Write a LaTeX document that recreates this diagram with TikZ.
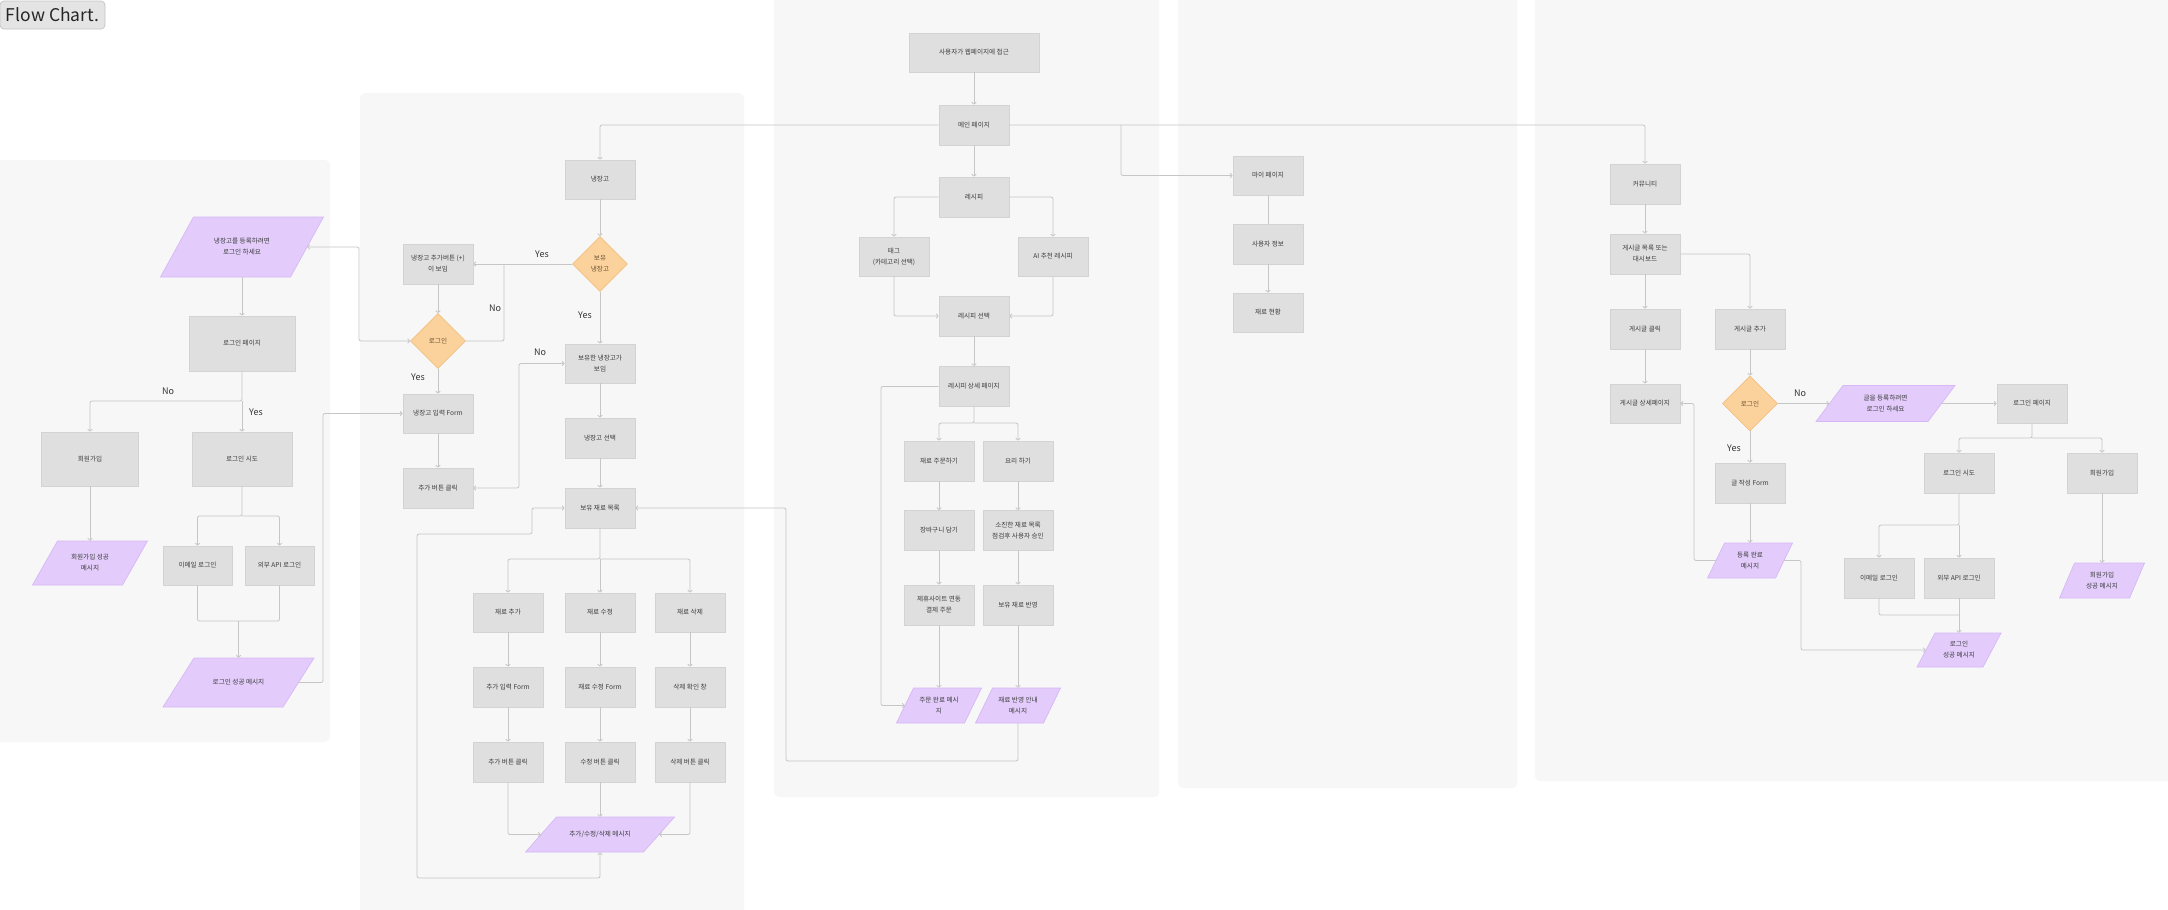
\documentclass[tikz,border=0pt]{standalone}
\usepackage{fontspec}
\setmainfont{Noto Sans CJK KR}
\usetikzlibrary{shapes.geometric,arrows.meta}
\definecolor{panelbg}{HTML}{F7F7F7}
\definecolor{boxfill}{HTML}{DFDFDF}
\definecolor{boxline}{HTML}{D3D3D3}
\definecolor{diafill}{HTML}{FCD29C}
\definecolor{dialine}{HTML}{F2C080}
\definecolor{pgfill}{HTML}{E3CCFB}
\definecolor{pgline}{HTML}{D6B8F6}
\definecolor{connc}{HTML}{C6C6C6}
\definecolor{txt}{HTML}{3C3C3C}
\definecolor{diatxt}{HTML}{6A5236}
\definecolor{titlefill}{HTML}{E4E4E4}
\definecolor{titleline}{HTML}{C4C4C4}
\tikzset{
  box/.style={draw=boxline, line width=0.7pt, fill=boxfill, text=txt,
    font=\fontsize{6.6}{11}\selectfont, align=center, inner sep=0pt,
    minimum width=70pt, minimum height=40pt},
  dia/.style={diamond, aspect=1, draw=dialine, line width=0.7pt, fill=diafill, text=diatxt,
    font=\fontsize{6.6}{11}\selectfont, align=center, inner sep=0pt,
    minimum width=55pt, minimum height=55pt},
  pgshape/.style={fill=pgfill, draw=pgline, line width=0.7pt},
  pgtext/.style={text=txt, font=\fontsize{6.6}{11}\selectfont, align=center, inner sep=0pt},
  conn/.style={draw=connc, line width=0.8pt, rounded corners=2pt},
  arr/.style={conn, -{Straight Barb[length=2pt,width=4.5pt]}},
  barr/.style={conn, {Straight Barb[length=2pt,width=4.5pt]}-{Straight Barb[length=2pt,width=4.5pt]}},
  lbl/.style={font=\fontsize{9}{10}\selectfont, text=black!80},
  panel/.style={fill=panelbg, rounded corners=5pt},
  titlebox/.style={draw=titleline, line width=0.7pt, fill=titlefill, rounded corners=4pt,
    minimum width=105pt, minimum height=28pt, inner sep=0pt,
    font=\fontsize{17.5}{20}\selectfont, text=black!85}
}
\newcommand{\mypgram}[7]{%
  \path[pgshape] ({#2-#4/2+#6/2},{#3-#5/2}) -- ({#2+#4/2+#6/2},{#3-#5/2})
    -- ({#2+#4/2-#6/2},{#3+#5/2}) -- ({#2-#4/2-#6/2},{#3+#5/2}) -- cycle;
  \node[pgtext, minimum width=#4pt, minimum height=#5pt] (#1) at (#2,#3) {#7};}
\begin{document}
\begin{tikzpicture}[x=1pt,y=-1pt]
\useasboundingbox (0,0) rectangle (2168,910);
\fill[white] (0,0) rectangle (2168,910);
% panels
\fill[panel] (-6,160) rectangle (330,742);
\fill[panel] (360,93) rectangle (744,918);
\fill[panel] (774,-6) rectangle (1159,797);
\fill[panel] (1178,-6) rectangle (1517,788);
\fill[panel] (1535,-6) rectangle (2176,781);
% title
\node[titlebox] (title) at (52.5,15) {Flow Chart.};

% ---------- panel 1 ----------
\mypgram{p1reg}{242}{247}{130}{60}{33}{냉장고를 등록하려면\\로그인 하세요}
\node[box, minimum width=106pt, minimum height=55pt] (n1lp) at (242,343.5) {로그인 페이지};
\node[box, minimum width=97pt, minimum height=54pt] (n1join) at (90,459) {회원가입};
\node[box, minimum width=100pt, minimum height=54pt] (n1try) at (242,459) {로그인 시도};
\mypgram{p1joinok}{90}{563}{90}{44}{25}{회원가입 성공\\메시지}
\node[box, minimum width=69pt, minimum height=39pt] (n1email) at (197.5,565.5) {이메일 로그인};
\node[box, minimum width=69pt, minimum height=39pt] (n1ext) at (279.5,565.5) {외부 API 로그인};
\mypgram{p1loginok}{238.5}{682.5}{120}{49}{31}{로그인 성공 메시지}

% ---------- panel 2 ----------
\node[box, minimum height=39pt] (n2fridge) at (600,179.5) {냉장고};
\node[dia] (d2have) at (600,264) {보유\\냉장고};
\node[box] (n2addbtn) at (438,264) {냉장고 추가버튼 (+)\\이 보임};
\node[dia] (d2login) at (438,341) {로그인};
\node[box, minimum height=39pt] (n2form) at (438,413.5) {냉장고 입력 Form};
\node[box] (n2addclick) at (438,488) {추가 버튼 클릭};
\node[box, minimum height=39pt] (n2shown) at (600,363.5) {보유한 냉장고가\\보임};
\node[box] (n2select) at (600,438) {냉장고 선택};
\node[box] (n2list) at (600,508) {보유 재료 목록};
\node[box, minimum height=39pt] (n2add) at (508,612.5) {재료 추가};
\node[box, minimum height=39pt] (n2edit) at (600,612.5) {재료 수정};
\node[box, minimum height=39pt] (n2del) at (690,612.5) {재료 삭제};
\node[box] (n2addform) at (508,687) {추가 입력 Form};
\node[box] (n2editform) at (600,687) {재료 수정 Form};
\node[box] (n2delconf) at (690,687) {삭제 확인 창};
\node[box] (n2addbtn2) at (508,762) {추가 버튼 클릭};
\node[box] (n2editbtn) at (600,762) {수정 버튼 클릭};
\node[box] (n2delbtn) at (690,762) {삭제 버튼 클릭};
\mypgram{p2msg}{600}{834.5}{118}{35}{31}{추가/수정/삭제 메시지}

% ---------- panel 3 ----------
\node[box, minimum width=130pt, minimum height=39pt] (n3access) at (974,52.5) {사용자가 웹페이지에 접근};
\node[box] (n3main) at (974,125) {메인 페이지};
\node[box] (n3recipe) at (974,197) {레시피};
\node[box, minimum height=39pt] (n3tag) at (894,256.5) {태그\\(카테고리 선택)};
\node[box, minimum height=39pt] (n3ai) at (1053,256.5) {AI 추천 레시피};
\node[box] (n3select) at (974,316) {레시피 선택};
\node[box] (n3detail) at (974,386.5) {레시피 상세 페이지};
\node[box] (n3order) at (939,461) {재료 주문하기};
\node[box] (n3cook) at (1018,461) {요리 하기};
\node[box] (n3cart) at (939,530.5) {장바구니 담기};
\node[box] (n3check) at (1018,530.5) {소진한 재료 목록\\점검후 사용자 승인};
\node[box] (n3pay) at (939,605) {제휴사이트 연동\\결제 주문};
\node[box] (n3reflect) at (1018,605) {보유 재료 반영};
\mypgram{p3ordered}{939}{705.5}{68}{35}{17}{주문 완료 메시\\지}
\mypgram{p3reflected}{1018}{705.5}{68}{35}{17}{재료 반영 안내\\메시지}

% ---------- panel 4 ----------
\node[box, minimum height=39pt] (n4my) at (1268,175.5) {마이 페이지};
\node[box] (n4info) at (1268,244) {사용자 정보};
\node[box, minimum height=39pt] (n4stock) at (1268,312.5) {재료 현황};

% ---------- panel 5 ----------
\node[box] (n5comm) at (1645,184) {커뮤니티};
\node[box] (n5board) at (1645,254) {게시글 목록 또는\\대시보드};
\node[box] (n5click) at (1645,329) {게시글 클릭};
\node[box, minimum height=39pt] (n5detail) at (1645,403.5) {게시글 상세페이지};
\node[box] (n5add) at (1750,329) {게시글 추가};
\node[dia] (d5login) at (1750,403.5) {로그인};
\mypgram{p5need}{1885.5}{403.5}{112}{36}{27}{글을 등록하려면\\로그인 하세요}
\node[box, minimum height=39pt] (n5lp) at (2032,403.5) {로그인 페이지};
\node[box] (n5form) at (1750,483) {글 작성 Form};
\mypgram{p5done}{1750}{560.5}{68}{35}{17}{등록 완료\\메시지}
\node[box] (n5try) at (1959,473) {로그인 시도};
\node[box] (n5join) at (2102,473) {회원가입};
\node[box] (n5email) at (1879,578) {이메일 로그인};
\node[box] (n5ext) at (1959,578) {외부 API 로그인};
\mypgram{p5loginok}{1959}{650}{66}{34}{18}{로그인\\성공 메시지}
\mypgram{p5joinok}{2102}{580.5}{70}{35}{15}{회원가입\\성공 메시지}

% ---------- connectors panel 1 ----------
\draw[arr] (p1reg.south) -- (n1lp.north);
\coordinate (b1) at (242,401);
\draw[arr] (n1lp.south) -- (b1) -| (n1join.north);
\draw[arr] (b1) -- (n1try.north);
\node[lbl] (l1no) at (168,391) {No};
\node[lbl] (l1yes) at (256,412) {Yes};
\draw[arr] (n1join.south) -- (p1joinok.north);
\coordinate (b2) at (242,516);
\draw[arr] (n1try.south) -- (b2) -| (n1email.north);
\draw[arr] (b2) -| (n1ext.north);
\coordinate (m1) at (238.5,621);
\draw[conn] (n1email.south) |- (m1) -| (n1ext.south);
\draw[arr] (m1) -- (p1loginok.north);
\coordinate (c1) at (323,682.5);
\draw[arr] (p1loginok.east) -- (c1) |- (n2form.west);
\coordinate (c2) at (359,247);
\draw[barr] (p1reg.east) -- (c2) |- (d2login.west);

% ---------- connectors panel 2 ----------
\coordinate (c3) at (600,125);
\draw[arr] (n3main.west) -- (c3) -- (n2fridge.north);
\draw[arr] (n2fridge.south) -- (d2have.north);
\draw[arr] (d2have.west) -- (n2addbtn.east);
\node[lbl] (l2yes1) at (542,254) {Yes};
\draw[arr] (n2addbtn.south) -- (d2login.north);
\coordinate (c4) at (504,341);
\coordinate (c5) at (504,264);
\draw[conn] (d2login.east) -- (c4) -- (c5);
\node[lbl] (l2no1) at (495,308) {No};
\draw[arr] (d2login.south) -- (n2form.north);
\node[lbl] (l2yes2) at (418,377) {Yes};
\draw[arr] (n2form.south) -- (n2addclick.north);
\coordinate (c6) at (519,488);
\draw[barr] (n2addclick.east) -- (c6) |- (n2shown.west);
\node[lbl] (l2no2) at (540,352) {No};
\draw[arr] (d2have.south) -- (n2shown.north);
\node[lbl] (l2yes3) at (585,315) {Yes};
\draw[arr] (n2shown.south) -- (n2select.north);
\draw[arr] (n2select.south) -- (n2list.north);
\coordinate (b3) at (600,559);
\draw[arr] (n2list.south) -- (b3) -| (n2add.north);
\draw[arr] (b3) -| (n2del.north);
\draw[arr] (b3) -- (n2edit.north);
\draw[arr] (n2add.south) -- (n2addform.north);
\draw[arr] (n2edit.south) -- (n2editform.north);
\draw[arr] (n2del.south) -- (n2delconf.north);
\draw[arr] (n2addform.south) -- (n2addbtn2.north);
\draw[arr] (n2editform.south) -- (n2editbtn.north);
\draw[arr] (n2delconf.south) -- (n2delbtn.north);
\draw[arr] (n2addbtn2.south) |- (p2msg.west);
\draw[arr] (n2delbtn.south) |- (p2msg.east);
\draw[arr] (n2editbtn.south) -- (p2msg.north);
\coordinate (c7) at (600,878);
\coordinate (c8) at (417,878);
\coordinate (c9) at (417,534);
\coordinate (c10) at (532,534);
\coordinate (c11) at (532,508);
\draw[barr] (p2msg.south) -- (c7) -- (c8) -- (c9) -- (c10) -- (c11) -- (n2list.west);

% ---------- connectors panel 3 ----------
\draw[arr] (n3access.south) -- (n3main.north);
\draw[arr] (n3main.south) -- (n3recipe.north);
\draw[arr] (n3recipe.west) -| (n3tag.north);
\draw[arr] (n3recipe.east) -| (n3ai.north);
\draw[arr] (n3tag.south) |- (n3select.west);
\draw[arr] (n3ai.south) |- (n3select.east);
\draw[arr] (n3select.south) -- (n3detail.north);
\coordinate (b4) at (974,423);
\draw[arr] (n3detail.south) -- (b4) -| (n3order.north);
\draw[arr] (b4) -| (n3cook.north);
\draw[arr] (n3order.south) -- (n3cart.north);
\draw[arr] (n3cart.south) -- (n3pay.north);
\draw[arr] (n3pay.south) -- (p3ordered.north);
\draw[arr] (n3cook.south) -- (n3check.north);
\draw[arr] (n3check.south) -- (n3reflect.north);
\draw[arr] (n3reflect.south) -- (p3reflected.north);
\coordinate (c12) at (881,386.5);
\draw[arr] (n3detail.west) -- (c12) |- (p3ordered.west);
\coordinate (c13) at (1018,761);
\coordinate (c14) at (786,761);
\draw[arr] (p3reflected.south) -- (c13) -- (c14) |- (n2list.east);
\coordinate (c15) at (1645,125);
\draw[arr] (n3main.east) -- (c15) -- (n5comm.north);
\coordinate (b5) at (1121,125);
\draw[arr] (b5) |- (n4my.west);

% ---------- connectors panel 4 ----------
\draw[conn] (n4my.south) -- (n4info.north);
\draw[arr] (n4info.south) -- (n4stock.north);

% ---------- connectors panel 5 ----------
\draw[arr] (n5comm.south) -- (n5board.north);
\draw[arr] (n5board.south) -- (n5click.north);
\draw[arr] (n5click.south) -- (n5detail.north);
\draw[arr] (n5board.east) -| (n5add.north);
\draw[arr] (n5add.south) -- (d5login.north);
\draw[arr] (d5login.east) -- (p5need.west);
\node[lbl] (l5no) at (1800,393) {No};
\draw[arr] (p5need.east) -- (n5lp.west);
\draw[arr] (d5login.south) -- (n5form.north);
\node[lbl] (l5yes) at (1734,448) {Yes};
\draw[arr] (n5form.south) -- (p5done.north);
\coordinate (c16) at (1694,560.5);
\draw[arr] (p5done.west) -- (c16) |- (n5detail.east);
\coordinate (c17) at (1801,560.5);
\draw[arr] (p5done.east) -- (c17) |- (p5loginok.west);
\coordinate (b6) at (2032,438);
\draw[arr] (n5lp.south) -- (b6) -| (n5try.north);
\draw[arr] (b6) -| (n5join.north);
\coordinate (b7) at (1959,525);
\draw[arr] (n5try.south) -- (b7) -| (n5email.north);
\draw[arr] (b7) -- (n5ext.north);
\coordinate (m2) at (1959,615);
\draw[conn] (n5email.south) |- (m2);
\draw[arr] (n5ext.south) -- (p5loginok.north);
\draw[arr] (n5join.south) -- (p5joinok.north);
\end{tikzpicture}
\end{document}
